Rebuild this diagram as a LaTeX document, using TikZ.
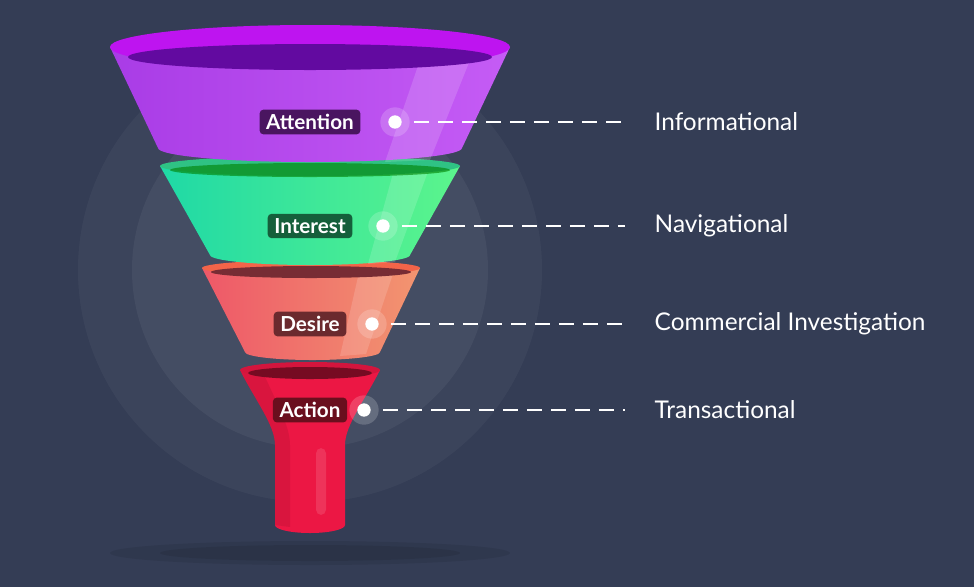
\documentclass[tikz,border=0pt]{standalone}
\usepackage{fontspec}
\setmainfont{Lato}
\begin{document}
\begin{tikzpicture}[x=0.75pt,y=-0.75pt,
  lab/.style={rounded corners=3pt,text=white,font=\fontsize{15.5}{16}\selectfont\bfseries,inner xsep=5pt,inner ysep=3.5pt},
  dot/.style={circle,fill=white,minimum size=10pt,inner sep=0pt},
  halo/.style={circle,fill=white,fill opacity=0.18,minimum size=22pt,inner sep=0pt},
  dashln/.style={white,line width=1.6pt,dash pattern=on 11pt off 7pt},
  txt/.style={anchor=west,text=white,font=\fontsize{18.3}{20}\selectfont}]
\definecolor{bg}{HTML}{343D55}
\fill[bg] (0,0) rectangle (974,587);
\fill[white,opacity=0.04] (310,270) circle (232);
\fill[white,opacity=0.05] (310,270) circle (178);
% shadow
\fill[black,opacity=0.08] (310,553) ellipse (200 and 12);
\fill[black,opacity=0.08] (310,553) ellipse (150 and 8);
% Action
\definecolor{ar}{HTML}{EC1744}
\fill[ar] (240,370) -- (380,370) .. controls (365,400) and (345,425) .. (345,445) -- (345,525) arc (0:180:35 and 8) -- (275,445) .. controls (275,425) and (255,400) .. (240,370) -- cycle;
\fill[black,opacity=0.08] (240,370) .. controls (255,400) and (275,425) .. (275,445) -- (275,525) -- (290,527) -- (290,445) .. controls (290,425) and (275,400) .. (262,370) -- cycle;
\fill[white,opacity=0.12,rounded corners=4pt] (316,448) rectangle (326,515);
\fill[ar!90!black] (310,370) ellipse (70 and 8);
\fill[ar!50!black] (310,373) ellipse (62 and 6);
% Desire
\definecolor{dl}{HTML}{EE5868}\definecolor{dr}{HTML}{F29570}
\shade[left color=dl, right color=dr] (202,268) -- (420,268) -- (380,352) arc (0:180:67.5 and 8) -- cycle;
\fill[white,opacity=0.15] (360,268) -- (395,268) -- (366,354) -- (340,356) -- cycle;
\fill[dl!70!orange] (311,268) ellipse (109 and 8);
\fill[dl!50!black] (311,272) ellipse (100 and 6);
% Interest
\definecolor{gl}{HTML}{1FD9A6}\definecolor{gr}{HTML}{5CF58C}
\shade[left color=gl, right color=gr] (160,166) -- (460,166) -- (410,255) arc (0:180:100 and 10) -- cycle;
\fill[white,opacity=0.15] (395,166) -- (430,166) -- (395,262) -- (368,264) -- cycle;
\fill[gl!60!gr!85!black] (310,166) ellipse (150 and 10);
\fill[green!50!black,opacity=0.6] (310,170) ellipse (140 and 7);
% Attention
\definecolor{pl}{HTML}{A93CE6}\definecolor{pr}{HTML}{C55CF5}
\definecolor{purim}{HTML}{BE14F0}\definecolor{puinner}{HTML}{620AA0}
\shade[left color=pl, right color=pr] (110,47) -- (510,47) -- (462,148) arc (0:180:152 and 14) -- cycle;
\fill[white,opacity=0.15] (420,60) -- (470,60) -- (430,160) -- (385,162) -- cycle;
\fill[purim] (310,47) ellipse (200 and 22);
\fill[puinner] (310,57) ellipse (182 and 13);
% labels
\definecolor{c1}{HTML}{4A1560}\definecolor{c2}{HTML}{155F3B}
\definecolor{c3}{HTML}{6B2A2E}\definecolor{c4}{HTML}{6A0F1E}
\node[lab,fill=c1] (l1) at (310,122) {Attention};
\node[lab,fill=c2] (l2) at (310,226) {Interest};
\node[lab,fill=c3] (l3) at (310,324) {Desire};
\node[lab,fill=c4] (l4) at (310,410) {Action};
\foreach \i/\x/\y/\t in {1/395/122/Informational,2/383/226/Navigational,3/372/324/Commercial Investigation,4/364/410/Transactional}{
  \node[halo] at (\x,\y) {};
  \node[dot] (d\i) at (\x,\y) {};
  \coordinate (e\i) at (625,\y);
  \draw[dashln] ([xshift=9pt]d\i.east) -- (e\i);
  \node[txt] (t\i) at (650,\y) {\t};
}
\end{tikzpicture}
\end{document}
